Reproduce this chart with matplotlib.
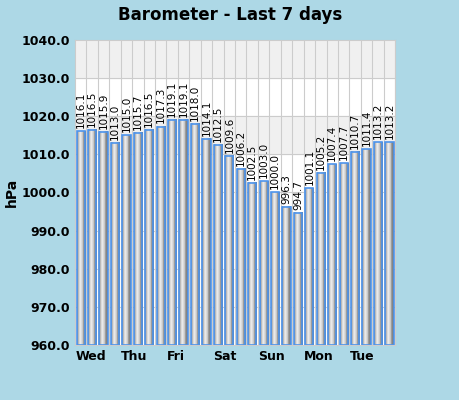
import numpy as np
import matplotlib.pyplot as plt

days = ['Wed', 'Thu', 'Fri', 'Sat', 'Sun', 'Mon', 'Tue']
pressure = [1016.1, 1016.5, 1015.9, 1013.0, 1015.0, 1015.7, 1016.5, 1017.3,
            1019.1, 1019.1, 1018.0, 1014.1, 1012.5, 1009.6, 1006.2, 1002.5,
            1003.0, 1000.0, 996.3, 994.7, 1001.1, 1005.2, 1007.4, 1007.7,
            1010.7, 1011.4, 1013.2, 1013.2]

fig = plt.figure(figsize=(4.6, 4.0), dpi=100)
fig.set_facecolor('#add8e6')
ax = fig.add_axes([0.163, 0.1375, 0.696, 0.7625])
ax.set_facecolor('white')

n = len(pressure)
x = np.arange(n)

# alternating bands
ax.axhspan(1030, 1040, color='#f0f0f0', zorder=0)
ax.axhspan(1010, 1020, color='#f0f0f0', zorder=0)
for yv in range(970, 1040, 10):
    ax.axhline(yv, color='#cccccc', lw=0.8, zorder=0.5)
for xv in x:
    ax.axvline(xv + 0.5, color='#cccccc', lw=0.8, zorder=0.5)

# gradient bars
grad = np.array([[0.6, 0.85, 0.92, 0.8, 0.6, 0.45]])
for xi, v in zip(x, pressure):
    ax.imshow(grad, cmap='gray', vmin=0, vmax=1, aspect='auto',
              extent=(xi - 0.36, xi + 0.36, 960, v), zorder=2)
ax.bar(x, [v - 960 for v in pressure], bottom=960, width=0.72,
       facecolor='none', edgecolor='#4d94ec', lw=1.2, zorder=3)
ax.set_xlim(-0.5, n - 0.5)
ax.set_ylim(960, 1040)

for xi, v in zip(x, pressure):
    ax.text(xi, v + 0.8, f'{v:.1f}', rotation=90, ha='center', va='bottom',
            fontsize=7.5, color='black', zorder=4)

ax.set_yticks(range(960, 1041, 10))
ax.set_yticklabels([f'{v:.1f}' for v in range(960, 1041, 10)],
                   fontsize=9, fontweight='bold')
ax.set_xticks(x[::4] - 0.45)
ax.set_xticklabels(days, fontsize=9, fontweight='bold', ha='left')
ax.tick_params(length=0)
for s in ax.spines.values():
    s.set_color('#cccccc')

ax.set_ylabel('hPa', fontsize=10, fontweight='bold', labelpad=2)
fig.suptitle('Barometer - Last 7 days', fontsize=12, fontweight='bold', y=0.985)

fig.savefig('out.png', dpi=100, facecolor=fig.get_facecolor())
